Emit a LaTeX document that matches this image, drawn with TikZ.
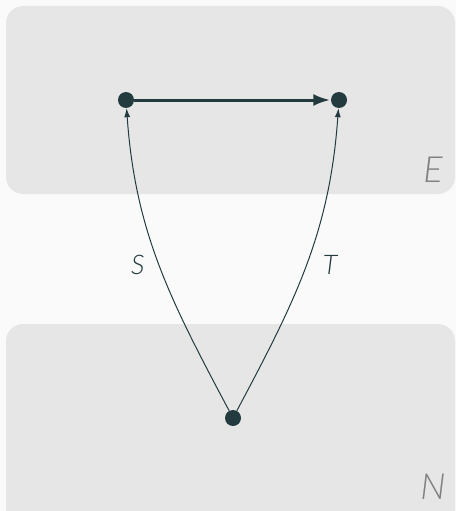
\documentclass[tikz,border=0pt]{standalone}
\usepackage{fontspec}
\setmainfont{Lato}
\newfontfamily\lab{Lato Light}
\usetikzlibrary{arrows.meta}
\definecolor{bg}{HTML}{FAFAFA}
\definecolor{boxc}{HTML}{E6E6E6}
\definecolor{ink}{HTML}{233A3F}
\definecolor{greyt}{HTML}{808080}
\tikzset{
  dot/.style={circle,fill=ink,inner sep=0pt,minimum size=16pt},
  region/.style={fill=boxc,rounded corners=17pt},
  big/.style={ink,line width=3pt,-{Latex[length=17pt,width=12pt]},shorten >=0.5pt},
  thin/.style={ink,line width=1pt,-{Latex[length=9pt,width=6pt]}},
  rlabel/.style={text=greyt,font=\lab\itshape\fontsize{36}{36}\selectfont,inner sep=0pt},
  elabel/.style={text=ink,font=\lab\itshape\fontsize{27}{27}\selectfont,inner sep=0pt}
}
\begin{document}
\begin{tikzpicture}[x=1pt,y=-1pt]
\useasboundingbox (0,0) rectangle (456,511);
\fill[bg] (0,0) rectangle (456,511);
\begin{scope}
\clip (0,0) rectangle (456,511);
\fill[region] (6,6) rectangle (455,194);
\fill[region] (6,324) rectangle (455,540);
\end{scope}
\node[rlabel] (E) at (433,170) {E};
\node[rlabel] (N) at (433,487) {N};
\node[dot] (a) at (126,100) {};
\node[dot] (b) at (339,100) {};
\node[dot] (c) at (233,418) {};
\draw[big] (a) -- (b);
\draw[thin] (c) to[out=118,in=-86] node[elabel,pos=0.5,left=14pt] (S) {S} (a);
\draw[thin] (c) to[out=62,in=-94] node[elabel,pos=0.5,right=16pt] (T) {T} (b);
\end{tikzpicture}
\end{document}
